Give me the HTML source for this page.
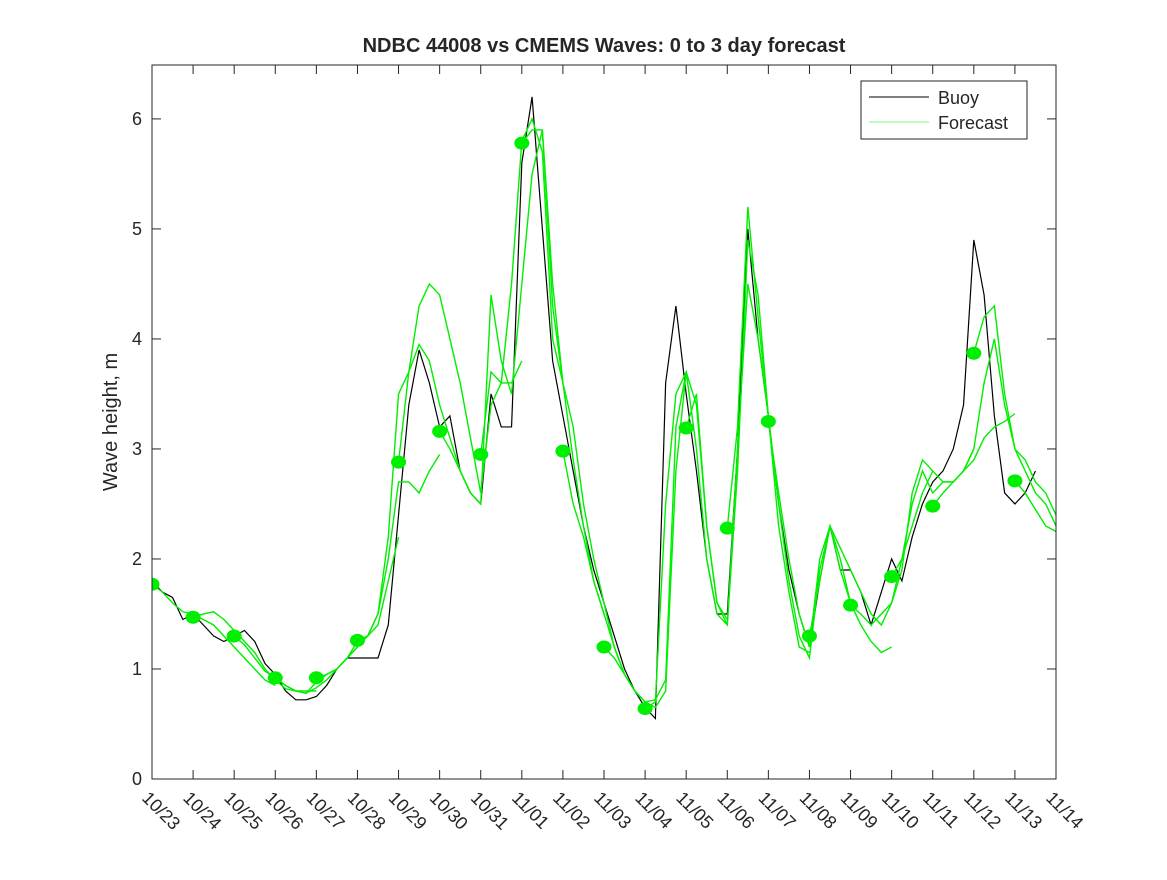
<!DOCTYPE html>
<html><head><meta charset="utf-8"><style>
body{margin:0;background:#fff;}
svg text{font-family:"Liberation Sans","DejaVu Sans",sans-serif;fill:#262626;}
</style></head><body>
<svg id="chart" width="1167" height="875" xmlns="http://www.w3.org/2000/svg">
<rect width="1167" height="875" fill="#fff"/>
<text x="604" y="52" text-anchor="middle" font-size="20" font-weight="bold" fill="#000">NDBC 44008 vs CMEMS Waves: 0 to 3 day forecast</text>
<text transform="translate(117,422) rotate(-90)" text-anchor="middle" font-size="20">Wave height, m</text>
<defs><clipPath id="pc"><rect x="152" y="65" width="904" height="714"/></clipPath></defs>
<g id="marks" clip-path="url(#pc)"></g>
<rect x="152" y="65" width="904" height="714" fill="none" stroke="#262626" stroke-width="1"/>
<g id="axes"></g>
<g>
<rect x="861" y="81" width="166" height="58" fill="#fff" stroke="#262626"/>
<line x1="869" y1="97" x2="929" y2="97" stroke="#000"/>
<text x="938" y="104" font-size="18">Buoy</text>
<line x1="869" y1="122" x2="929" y2="122" stroke="#00ee00" stroke-width="0.6"/>
<text x="938" y="129" font-size="18">Forecast</text>
</g>
</svg>
<script>
const dateLabels=["10/23","10/24","10/25","10/26","10/27","10/28","10/29","10/30","10/31","11/01","11/02","11/03","11/04","11/05","11/06","11/07","11/08","11/09","11/10","11/11","11/12","11/13","11/14"];
const yTicks=[0,1,2,3,4,5,6];
// buoy values every 6 hours starting 10/23 00:00
const buoy=[1.8,1.7,1.65,1.45, 1.5,1.4,1.3,1.25, 1.3,1.35,1.25,1.05, 0.95,0.8,0.72,0.72, 0.75,0.85,1.0,1.1, 1.1,1.1,1.1,1.4,
2.4,3.4,3.9,3.6, 3.2,3.3,2.8,2.6, 2.5,3.5,3.2,3.2, 5.6,6.2,5.0,3.8, 3.3,2.8,2.3,1.9, 1.6,1.3,1.0,0.8,
0.65,0.55,3.6,4.3, 3.5,2.8,2.0,1.5, 1.5,3.0,5.0,4.0, 3.3,2.5,1.9,1.5, 1.2,1.8,2.3,1.9, 1.9,1.7,1.4,1.7,
2.0,1.8,2.2,2.5, 2.7,2.8,3.0,3.4, 4.9,4.4,3.3,2.6, 2.5,2.6,2.8];
// forecast start-day dot values
const dotValues=[1.77,1.47,1.3,0.92,0.92,1.26,2.88,3.16,2.95,5.78,2.98,1.2,0.64,3.19,2.28,3.25,1.3,1.58,1.84,2.48,3.87,2.71];
// forecast runs, values every 6h from their start day
const run0=[1.77,1.7,1.6,1.52,1.5,1.45,1.4,1.3,1.2,1.1,1.0,0.9,0.85];
const run1=[1.47,1.5,1.52,1.45,1.35,1.25,1.15,1.0,0.9,0.82,0.8,0.8,0.8];
const run2=[1.3,1.22,1.1,0.98,0.92,0.85,0.8,0.78,0.88,0.95,1.0,1.1,1.2];
const run3=[0.92,0.85,0.8,0.78,0.83,0.9,1.0,1.1,1.2,1.3,1.4,1.8,2.2];
const run4=[0.92,0.95,1.0,1.1,1.25,1.3,1.5,2.0,2.7,2.7,2.6,2.8,2.95];
const run5=[1.26,1.3,1.5,2.2,3.5,3.7,3.95,3.8,3.4,3.1,2.8,2.6,2.5];
const run6=[2.88,3.7,4.3,4.5,4.4,4.0,3.6,3.1,2.6,3.4,3.6,3.6,3.8];
const run7=[3.16,3.0,2.8,2.6,2.5,4.4,3.8,3.5,4.5,5.5,5.9,4.5,3.6];
const run8=[2.95,3.7,3.6,4.5,5.8,6.0,5.7,4.0,3.6,2.9,2.3,1.8,1.5];
const run9=[5.78,5.9,5.9,4.3,3.6,3.2,2.5,2.0,1.6,1.2,0.95,0.8,0.7];
const run10=[2.98,2.5,2.2,1.8,1.5,1.2,0.95,0.8,0.7,0.65,0.8,2.8,3.7];
const run11=[1.2,1.1,0.95,0.8,0.7,0.72,0.9,3.2,3.7,3.4,2.3,1.6,1.45];
const run12=[0.64,0.7,2.5,3.5,3.7,3.0,2.0,1.5,1.4,2.8,4.9,4.4,3.3];
const run13=[3.19,3.5,2.3,1.6,1.4,3.0,4.5,4.0,3.3,2.3,1.7,1.2,1.15];
const run14=[2.28,3.2,5.2,4.2,3.3,2.5,1.8,1.3,1.1,1.9,2.3,1.9,1.6];
const run15=[3.25,2.6,2.0,1.5,1.2,2.0,2.3,2.0,1.6,1.4,1.25,1.15,1.2];
const run16=[1.3,1.8,2.3,2.1,1.9,1.7,1.5,1.4,1.6,1.9,2.6,2.9,2.8];
const run17=[1.58,1.5,1.4,1.5,1.6,2.0,2.3,2.6,2.8,2.7,2.7,2.8,3.0];
const run18=[1.84,2.0,2.5,2.8,2.6,2.7,2.7,2.8,2.9,3.1,3.2,3.25,3.32];
const run19=[2.48,2.6,2.7,2.8,3.0,3.6,4.0,3.4,3.0,2.9,2.7,2.6,2.4];
const run20=[3.87,4.2,4.3,3.5,3.0,2.8,2.6,2.5,2.3];
const run21=[2.71,2.6,2.45,2.3,2.25];
const runs=[run0,run1,run2,run3,run4,run5,run6,run7,run8,run9,run10,run11,run12,run13,run14,run15,run16,run17,run18,run19,run20,run21];

const NS="http://www.w3.org/2000/svg";
const X0=152,X1=1056,Y0=779,YT=65,DAYS=22,YMAX=6.49;
const xs=d=>X0+(X1-X0)*d/DAYS;
const ys=v=>Y0-(Y0-YT)*v/YMAX;
function mk(tag,attrs,parent){const e=document.createElementNS(NS,tag);for(const k in attrs)e.setAttribute(k,attrs[k]);parent.appendChild(e);return e;}
const axes=document.getElementById('axes'),marks=document.getElementById('marks');
dateLabels.forEach((l,i)=>{
  const x=xs(i);
  const t1=mk('line',{x1:x,y1:Y0,x2:x,y2:Y0-9,stroke:'#262626'},axes);
  
  
  const t2=mk('line',{x1:x,y1:YT,x2:x,y2:YT+9,stroke:'#262626'},axes);
  
  
  const tx=mk('text',{transform:`translate(${x-11},${Y0+20}) rotate(45)`,'font-size':18},axes);
  tx.textContent=l;
  
  
});
yTicks.forEach(v=>{
  const y=ys(v);
  const t1=mk('line',{x1:X0,y1:y,x2:X0+9,y2:y,stroke:'#262626'},axes);
  
  
  const t2=mk('line',{x1:X1,y1:y,x2:X1-9,y2:y,stroke:'#262626'},axes);
  
  
  const tx=mk('text',{x:X0-10,y:y+6,'text-anchor':'end','font-size':18},axes);
  tx.textContent=v;
  
  
});
const bpts=buoy.map((v,i)=>xs(i*0.25)+','+ys(v)).join(' ');
const bl=mk('polyline',{points:bpts,fill:'none',stroke:'#000','stroke-width':1.2},marks);


runs.forEach((r,k)=>{
  const p=r.map((v,j)=>xs(k+j*0.25)+','+ys(v)).join(' ');
  const pl=mk('polyline',{points:p,fill:'none',stroke:'#00ee00','stroke-width':1.4},marks);
  
  
});
dotValues.forEach((v,k)=>{
  const c=mk('ellipse',{cx:xs(k),cy:ys(v),rx:7.5,ry:6.5,fill:'#00ee00'},marks);
  
  
});
</script>
</body></html>
